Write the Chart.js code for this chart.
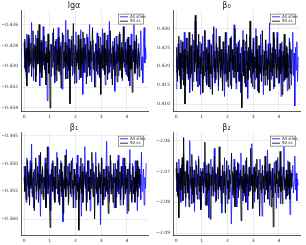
<!DOCTYPE html>
<html>
<head>
<meta charset="utf-8">
<script src="https://cdn.jsdelivr.net/npm/chart.js@4.4.0/dist/chart.umd.min.js"></script>
<style>
  html, body { margin: 0; padding: 0; background: #fff; }
  #wrap { position: relative; width: 306px; height: 245px; overflow: hidden; }
  .cell { position: absolute; }
</style>
</head>
<body>
<div id="wrap">
  <div class="cell" style="left:0;top:0;width:153px;height:122px"><canvas id="c0"></canvas></div>
  <div class="cell" style="left:153px;top:0;width:153px;height:122px"><canvas id="c1"></canvas></div>
  <div class="cell" style="left:0;top:122px;width:153px;height:123px"><canvas id="c2"></canvas></div>
  <div class="cell" style="left:153px;top:122px;width:153px;height:123px"><canvas id="c3"></canvas></div>
</div>
<script>
// series names / colours
const seriesNames = ['All sites', '50 ss'];
const seriesColors = ['#0000ff', '#000000'];
const panelTitles = ['lgα', 'β₀', 'β₁', 'β₂'];
const xTicks = [0, 1, 2, 3, 4];
const xEndAll = 4.75;   // last draw of "All sites"
const xEndSub = 4.5;    // last draw of "50 ss"

// lgα
const lgaTicks = [-0.434, -0.432, -0.430, -0.428, -0.426];
const lgaAll = [
  -0.4277, -0.4302, -0.4286, -0.4311, -0.4269, -0.4294, -0.4281, -0.4306, -0.4273, -0.4298,
  -0.4289, -0.4258, -0.4300, -0.4283, -0.4314, -0.4279, -0.4295, -0.4270, -0.4309, -0.4287,
  -0.4266, -0.4297, -0.4284, -0.4319, -0.4291, -0.4275, -0.4303, -0.4288, -0.4262, -0.4299,
  -0.4282, -0.4307, -0.4276, -0.4293, -0.4333, -0.4286, -0.4271, -0.4301, -0.4290, -0.4279,
  -0.4310, -0.4285, -0.4268, -0.4296, -0.4281, -0.4316, -0.4289, -0.4274, -0.4304, -0.4292,
  -0.4263, -0.4298, -0.4283, -0.4308, -0.4277, -0.4294, -0.4322, -0.4287, -0.4270, -0.4301,
  -0.4285, -0.4256, -0.4297, -0.4280, -0.4312, -0.4290, -0.4274, -0.4305, -0.4286, -0.4299,
  -0.4271, -0.4309, -0.4288, -0.4279, -0.4317, -0.4293, -0.4267, -0.4300, -0.4284, -0.4296,
  -0.4276, -0.4313, -0.4289, -0.4265, -0.4302, -0.4282, -0.4327, -0.4291, -0.4273, -0.4306,
  -0.4287, -0.4298, -0.4269, -0.4310, -0.4284, -0.4295, -0.4260, -0.4303, -0.4280, -0.4315,
  -0.4292, -0.4275, -0.4301, -0.4286, -0.4320, -0.4279, -0.4297, -0.4268, -0.4308, -0.4290,
  -0.4283, -0.4311, -0.4272, -0.4299, -0.4287, -0.4264, -0.4304, -0.4293, -0.4278, -0.4318,
  -0.4285, -0.4296, -0.4270, -0.4307, -0.4289, -0.4257, -0.4300, -0.4282, -0.4312, -0.4291,
  -0.4276, -0.4303, -0.4286, -0.4324, -0.4294, -0.4271, -0.4298, -0.4281, -0.4309, -0.4288,
  -0.4267, -0.4301, -0.4290, -0.4277, -0.4314, -0.4285, -0.4296, -0.4262, -0.4305, -0.4283,
  -0.4299, -0.4274, -0.4310, -0.4288, -0.4280, -0.4319, -0.4292, -0.4269, -0.4302, -0.4286,
  -0.4295, -0.4259, -0.4306, -0.4284, -0.4298, -0.4273, -0.4313, -0.4289, -0.4278, -0.4300,
  -0.4287, -0.4266, -0.4304, -0.4291, -0.4316, -0.4276, -0.4263, -0.4297, -0.4282, -0.4293
];
const lgaSub = [
  -0.4291, -0.4274, -0.4305, -0.4283, -0.4319, -0.4288, -0.4270, -0.4300, -0.4285, -0.4296,
  -0.4278, -0.4310, -0.4287, -0.4266, -0.4302, -0.4292, -0.4281, -0.4315, -0.4289, -0.4273,
  -0.4298, -0.4284, -0.4260, -0.4306, -0.4290, -0.4277, -0.4311, -0.4286, -0.4295, -0.4271,
  -0.4303, -0.4288, -0.4318, -0.4282, -0.4297, -0.4269, -0.4307, -0.4285, -0.4340, -0.4293,
  -0.4279, -0.4301, -0.4287, -0.4264, -0.4309, -0.4290, -0.4276, -0.4314, -0.4284, -0.4299,
  -0.4272, -0.4305, -0.4289, -0.4281, -0.4321, -0.4294, -0.4268, -0.4302, -0.4286, -0.4296,
  -0.4277, -0.4312, -0.4288, -0.4299, -0.4265, -0.4304, -0.4283, -0.4336, -0.4291, -0.4275,
  -0.4300, -0.4286, -0.4259, -0.4307, -0.4292, -0.4280, -0.4316, -0.4287, -0.4297, -0.4270,
  -0.4303, -0.4289, -0.4274, -0.4311, -0.4285, -0.4298, -0.4267, -0.4306, -0.4282, -0.4294,
  -0.4279, -0.4317, -0.4290, -0.4272, -0.4301, -0.4286, -0.4309, -0.4276, -0.4295, -0.4284,
  -0.4263, -0.4303, -0.4288, -0.4320, -0.4293, -0.4278, -0.4305, -0.4285, -0.4298, -0.4271,
  -0.4310, -0.4287, -0.4327, -0.4296, -0.4280, -0.4302, -0.4289, -0.4268, -0.4308, -0.4283,
  -0.4299, -0.4275, -0.4313, -0.4290, -0.4284, -0.4306, -0.4266, -0.4297, -0.4288, -0.4318,
  -0.4281, -0.4300, -0.4273, -0.4309, -0.4292, -0.4286, -0.4315, -0.4279, -0.4296, -0.4269,
  -0.4304, -0.4290, -0.4282, -0.4311, -0.4287, -0.4262, -0.4301, -0.4294, -0.4277, -0.4308,
  -0.4285, -0.4298, -0.4272, -0.4314, -0.4289, -0.4280, -0.4303, -0.4291, -0.4325, -0.4284,
  -0.4296, -0.4276, -0.4307, -0.4288, -0.4270, -0.4302, -0.4293, -0.4283, -0.4310, -0.4287
];

// β₀
const b0Ticks = [0.410, 0.415, 0.420, 0.425, 0.430];
const b0All = [
  0.4140, 0.4225, 0.4175, 0.4260, 0.4190, 0.4235, 0.4155, 0.4270, 0.4200, 0.4165,
  0.4245, 0.4185, 0.4290, 0.4210, 0.4150, 0.4230, 0.4195, 0.4275, 0.4170, 0.4220,
  0.4130, 0.4250, 0.4205, 0.4180, 0.4285, 0.4160, 0.4240, 0.4195, 0.4320, 0.4215,
  0.4175, 0.4255, 0.4145, 0.4230, 0.4200, 0.4265, 0.4125, 0.4235, 0.4190, 0.4280,
  0.4165, 0.4220, 0.4295, 0.4185, 0.4245, 0.4150, 0.4210, 0.4270, 0.4180, 0.4230,
  0.4140, 0.4260, 0.4200, 0.4170, 0.4285, 0.4195, 0.4240, 0.4155, 0.4225, 0.4300,
  0.4185, 0.4250, 0.4135, 0.4215, 0.4275, 0.4175, 0.4235, 0.4195, 0.4160, 0.4265,
  0.4205, 0.4120, 0.4245, 0.4180, 0.4290, 0.4215, 0.4165, 0.4255, 0.4190, 0.4230,
  0.4150, 0.4280, 0.4200, 0.4240, 0.4170, 0.4310, 0.4185, 0.4225, 0.4140, 0.4260,
  0.4195, 0.4235, 0.4160, 0.4270, 0.4210, 0.4130, 0.4250, 0.4185, 0.4295, 0.4175,
  0.4220, 0.4155, 0.4265, 0.4200, 0.4240, 0.4115, 0.4230, 0.4190, 0.4280, 0.4170,
  0.4245, 0.4210, 0.4145, 0.4275, 0.4185, 0.4225, 0.4165, 0.4300, 0.4195, 0.4235,
  0.4135, 0.4255, 0.4200, 0.4180, 0.4285, 0.4160, 0.4215, 0.4245, 0.4125, 0.4230,
  0.4190, 0.4270, 0.4175, 0.4240, 0.4150, 0.4260, 0.4205, 0.4315, 0.4185, 0.4220,
  0.4165, 0.4250, 0.4195, 0.4140, 0.4275, 0.4210, 0.4235, 0.4170, 0.4290, 0.4200,
  0.4155, 0.4245, 0.4180, 0.4225, 0.4120, 0.4265, 0.4190, 0.4240, 0.4160, 0.4285,
  0.4205, 0.4170, 0.4255, 0.4135, 0.4230, 0.4195, 0.4275, 0.4180, 0.4245, 0.4150,
  0.4215, 0.4290, 0.4175, 0.4235, 0.4095, 0.4250, 0.4190, 0.4265, 0.4160, 0.4225
];
const b0Sub = [
  0.4185, 0.4250, 0.4160, 0.4225, 0.4280, 0.4175, 0.4235, 0.4140, 0.4215, 0.4265,
  0.4195, 0.4150, 0.4245, 0.4100, 0.4220, 0.4275, 0.4180, 0.4240, 0.4165, 0.4290,
  0.4205, 0.4170, 0.4255, 0.4190, 0.4135, 0.4230, 0.4270, 0.4185, 0.4335, 0.4210,
  0.4160, 0.4245, 0.4195, 0.4285, 0.4150, 0.4225, 0.4180, 0.4260, 0.4200, 0.4130,
  0.4240, 0.4175, 0.4295, 0.4210, 0.4155, 0.4250, 0.4190, 0.4235, 0.4145, 0.4270,
  0.4200, 0.4180, 0.4255, 0.4125, 0.4230, 0.4305, 0.4185, 0.4220, 0.4165, 0.4260,
  0.4195, 0.4240, 0.4150, 0.4280, 0.4210, 0.4170, 0.4245, 0.4190, 0.4135, 0.4265,
  0.4180, 0.4225, 0.4290, 0.4160, 0.4235, 0.4200, 0.4145, 0.4255, 0.4185, 0.4275,
  0.4210, 0.4140, 0.4245, 0.4190, 0.4230, 0.4170, 0.4300, 0.4195, 0.4155, 0.4250,
  0.4185, 0.4265, 0.4205, 0.4160, 0.4235, 0.4180, 0.4090, 0.4225, 0.4270, 0.4175,
  0.4240, 0.4195, 0.4145, 0.4285, 0.4210, 0.4165, 0.4250, 0.4190, 0.4320, 0.4200,
  0.4155, 0.4235, 0.4180, 0.4265, 0.4140, 0.4225, 0.4195, 0.4280, 0.4170, 0.4245,
  0.4205, 0.4130, 0.4255, 0.4185, 0.4230, 0.4160, 0.4295, 0.4200, 0.4175, 0.4240,
  0.4150, 0.4270, 0.4190, 0.4220, 0.4165, 0.4250, 0.4210, 0.4135, 0.4260, 0.4185,
  0.4235, 0.4175, 0.4290, 0.4195, 0.4145, 0.4245, 0.4205, 0.4170, 0.4275, 0.4190,
  0.4225, 0.4155, 0.4260, 0.4180, 0.4240, 0.4125, 0.4230, 0.4200, 0.4285, 0.4165,
  0.4215, 0.4250, 0.4170, 0.4235, 0.4190, 0.4140, 0.4265, 0.4205, 0.4180, 0.4245
];

// β₁
const b1Ticks = [-0.360, -0.355, -0.350, -0.345];
const b1All = [
  -0.3505, -0.3550, -0.3520, -0.3570, -0.3490, -0.3540, -0.3515, -0.3560, -0.3530, -0.3495,
  -0.3545, -0.3465, -0.3555, -0.3525, -0.3580, -0.3510, -0.3540, -0.3500, -0.3565, -0.3530,
  -0.3515, -0.3550, -0.3485, -0.3545, -0.3595, -0.3520, -0.3535, -0.3505, -0.3560, -0.3525,
  -0.3545, -0.3490, -0.3575, -0.3530, -0.3510, -0.3555, -0.3470, -0.3540, -0.3520, -0.3585,
  -0.3535, -0.3500, -0.3550, -0.3525, -0.3565, -0.3505, -0.3545, -0.3515, -0.3480, -0.3555,
  -0.3530, -0.3570, -0.3510, -0.3540, -0.3495, -0.3560, -0.3525, -0.3605, -0.3535, -0.3505,
  -0.3550, -0.3520, -0.3475, -0.3545, -0.3530, -0.3575, -0.3500, -0.3540, -0.3515, -0.3560,
  -0.3525, -0.3490, -0.3555, -0.3535, -0.3510, -0.3580, -0.3530, -0.3545, -0.3485, -0.3550,
  -0.3520, -0.3565, -0.3505, -0.3540, -0.3595, -0.3525, -0.3500, -0.3555, -0.3530, -0.3470,
  -0.3545, -0.3515, -0.3570, -0.3535, -0.3495, -0.3550, -0.3525, -0.3585, -0.3510, -0.3540,
  -0.3530, -0.3500, -0.3560, -0.3520, -0.3545, -0.3480, -0.3555, -0.3535, -0.3575, -0.3505,
  -0.3540, -0.3515, -0.3610, -0.3530, -0.3490, -0.3550, -0.3525, -0.3565, -0.3510, -0.3545,
  -0.3520, -0.3460, -0.3540, -0.3555, -0.3505, -0.3570, -0.3530, -0.3495, -0.3550, -0.3525,
  -0.3545, -0.3510, -0.3580, -0.3535, -0.3500, -0.3560, -0.3520, -0.3540, -0.3485, -0.3555,
  -0.3530, -0.3575, -0.3515, -0.3545, -0.3525, -0.3490, -0.3565, -0.3535, -0.3505, -0.3550,
  -0.3520, -0.3590, -0.3540, -0.3510, -0.3555, -0.3475, -0.3545, -0.3530, -0.3570, -0.3500,
  -0.3540, -0.3525, -0.3560, -0.3495, -0.3550, -0.3515, -0.3585, -0.3535, -0.3505, -0.3545,
  -0.3520, -0.3565, -0.3480, -0.3550, -0.3530, -0.3510, -0.3575, -0.3525, -0.3545, -0.3500
];
const b1Sub = [
  -0.3525, -0.3550, -0.3505, -0.3565, -0.3535, -0.3495, -0.3545, -0.3520, -0.3575, -0.3510,
  -0.3540, -0.3500, -0.3560, -0.3530, -0.3515, -0.3585, -0.3525, -0.3490, -0.3550, -0.3535,
  -0.3505, -0.3570, -0.3520, -0.3545, -0.3480, -0.3555, -0.3530, -0.3510, -0.3565, -0.3525,
  -0.3540, -0.3500, -0.3580, -0.3535, -0.3470, -0.3545, -0.3520, -0.3560, -0.3615, -0.3530,
  -0.3510, -0.3550, -0.3495, -0.3540, -0.3525, -0.3570, -0.3505, -0.3545, -0.3530, -0.3490,
  -0.3555, -0.3520, -0.3575, -0.3535, -0.3500, -0.3550, -0.3515, -0.3590, -0.3530, -0.3545,
  -0.3485, -0.3560, -0.3525, -0.3540, -0.3505, -0.3570, -0.3535, -0.3515, -0.3555, -0.3495,
  -0.3545, -0.3530, -0.3580, -0.3510, -0.3540, -0.3520, -0.3565, -0.3500, -0.3550, -0.3535,
  -0.3620, -0.3525, -0.3545, -0.3490, -0.3555, -0.3515, -0.3570, -0.3530, -0.3505, -0.3540,
  -0.3520, -0.3585, -0.3535, -0.3495, -0.3550, -0.3525, -0.3565, -0.3510, -0.3545, -0.3480,
  -0.3540, -0.3560, -0.3515, -0.3600, -0.3530, -0.3505, -0.3550, -0.3525, -0.3570, -0.3500,
  -0.3545, -0.3520, -0.3555, -0.3490, -0.3535, -0.3575, -0.3510, -0.3540, -0.3525, -0.3560,
  -0.3505, -0.3550, -0.3530, -0.3590, -0.3515, -0.3545, -0.3485, -0.3555, -0.3520, -0.3540,
  -0.3570, -0.3500, -0.3535, -0.3525, -0.3580, -0.3510, -0.3550, -0.3495, -0.3545, -0.3530,
  -0.3515, -0.3565, -0.3505, -0.3540, -0.3520, -0.3575, -0.3535, -0.3490, -0.3555, -0.3525,
  -0.3545, -0.3510, -0.3585, -0.3530, -0.3500, -0.3550, -0.3520, -0.3565, -0.3540, -0.3505,
  -0.3555, -0.3525, -0.3570, -0.3515, -0.3545, -0.3495, -0.3560, -0.3530, -0.3510, -0.3540
];

// β₂
const b2Ticks = [-2.09, -2.08, -2.07, -2.06];
const b2All = [
  -2.0690, -2.0765, -2.0705, -2.0785, -2.0660, -2.0740, -2.0715, -2.0800, -2.0680, -2.0750,
  -2.0725, -2.0645, -2.0770, -2.0700, -2.0815, -2.0735, -2.0675, -2.0760, -2.0710, -2.0790,
  -2.0600, -2.0745, -2.0720, -2.0805, -2.0685, -2.0755, -2.0695, -2.0830, -2.0730, -2.0665,
  -2.0775, -2.0710, -2.0745, -2.0650, -2.0790, -2.0725, -2.0690, -2.0820, -2.0740, -2.0700,
  -2.0760, -2.0670, -2.0735, -2.0810, -2.0715, -2.0680, -2.0770, -2.0730, -2.0850, -2.0705,
  -2.0745, -2.0660, -2.0780, -2.0720, -2.0695, -2.0765, -2.0625, -2.0740, -2.0800, -2.0710,
  -2.0755, -2.0685, -2.0790, -2.0730, -2.0670, -2.0760, -2.0715, -2.0835, -2.0700, -2.0745,
  -2.0720, -2.0655, -2.0775, -2.0735, -2.0690, -2.0805, -2.0725, -2.0680, -2.0765, -2.0710,
  -2.0740, -2.0870, -2.0750, -2.0700, -2.0785, -2.0660, -2.0730, -2.0770, -2.0695, -2.0815,
  -2.0720, -2.0675, -2.0760, -2.0705, -2.0740, -2.0640, -2.0755, -2.0725, -2.0795, -2.0690,
  -2.0735, -2.0780, -2.0665, -2.0750, -2.0710, -2.0825, -2.0730, -2.0685, -2.0765, -2.0700,
  -2.0745, -2.0610, -2.0770, -2.0720, -2.0690, -2.0800, -2.0735, -2.0675, -2.0755, -2.0715,
  -2.0790, -2.0705, -2.0740, -2.0660, -2.0760, -2.0730, -2.0845, -2.0695, -2.0750, -2.0720,
  -2.0680, -2.0775, -2.0710, -2.0745, -2.0630, -2.0765, -2.0725, -2.0810, -2.0700, -2.0740,
  -2.0760, -2.0690, -2.0785, -2.0715, -2.0670, -2.0750, -2.0735, -2.0820, -2.0705, -2.0655,
  -2.0770, -2.0725, -2.0695, -2.0805, -2.0740, -2.0685, -2.0760, -2.0710, -2.0590, -2.0750,
  -2.0730, -2.0790, -2.0700, -2.0745, -2.0665, -2.0775, -2.0720, -2.0840, -2.0695, -2.0755,
  -2.0715, -2.0680, -2.0770, -2.0735, -2.0650, -2.0760, -2.0705, -2.0795, -2.0725, -2.0745
];
const b2Sub = [
  -2.0725, -2.0670, -2.0780, -2.0705, -2.0850, -2.0740, -2.0690, -2.0760, -2.0715, -2.0655,
  -2.0795, -2.0590, -2.0745, -2.0700, -2.0785, -2.0725, -2.0665, -2.0770, -2.0710, -2.0815,
  -2.0735, -2.0685, -2.0755, -2.0645, -2.0775, -2.0720, -2.0800, -2.0695, -2.0750, -2.0710,
  -2.0680, -2.0790, -2.0730, -2.0660, -2.0765, -2.0715, -2.0825, -2.0700, -2.0745, -2.0690,
  -2.0770, -2.0725, -2.0605, -2.0750, -2.0705, -2.0810, -2.0735, -2.0675, -2.0760, -2.0720,
  -2.0855, -2.0710, -2.0745, -2.0685, -2.0780, -2.0730, -2.0650, -2.0765, -2.0705, -2.0795,
  -2.0740, -2.0690, -2.0760, -2.0620, -2.0750, -2.0715, -2.0805, -2.0725, -2.0680, -2.0770,
  -2.0700, -2.0745, -2.0835, -2.0710, -2.0665, -2.0755, -2.0730, -2.0790, -2.0695, -2.0740,
  -2.0720, -2.0640, -2.0775, -2.0705, -2.0760, -2.0685, -2.0815, -2.0735, -2.0700, -2.0750,
  -2.0670, -2.0785, -2.0725, -2.0745, -2.0695, -2.0860, -2.0715, -2.0755, -2.0680, -2.0770,
  -2.0730, -2.0705, -2.0800, -2.0655, -2.0740, -2.0720, -2.0780, -2.0690, -2.0760, -2.0625,
  -2.0745, -2.0710, -2.0820, -2.0730, -2.0685, -2.0765, -2.0700, -2.0750, -2.0660, -2.0790,
  -2.0725, -2.0695, -2.0845, -2.0740, -2.0705, -2.0770, -2.0680, -2.0755, -2.0715, -2.0800,
  -2.0650, -2.0735, -2.0760, -2.0700, -2.0790, -2.0720, -2.0675, -2.0745, -2.0710, -2.0815,
  -2.0730, -2.0690, -2.0880, -2.0755, -2.0705, -2.0770, -2.0665, -2.0740, -2.0725, -2.0785,
  -2.0700, -2.0750, -2.0635, -2.0765, -2.0715, -2.0805, -2.0735, -2.0685, -2.0760, -2.0720,
  -2.0745, -2.0695, -2.0780, -2.0710, -2.0755, -2.0670, -2.0790, -2.0730, -2.0705, -2.0750
];

// draws are evenly spaced from 0 to the end of each chain
function toPoints(vals, xEnd) {
  return vals.map((v, i) => ({ x: i * xEnd / (vals.length - 1), y: v }));
}

function fmt(dec) {
  return v => v.toFixed(dec).replace('-', '\u2212');
}

// small boxed legend in the top-right corner of the plot area
const cornerLegend = {
  id: 'cornerLegend',
  afterDraw(chart) {
    const { ctx, chartArea } = chart;
    const w = 26, h = 11;
    const x0 = chartArea.right - w - 4;
    const y0 = chartArea.top + 3;
    ctx.save();
    ctx.fillStyle = '#fff';
    ctx.fillRect(x0, y0, w, h);
    ctx.strokeStyle = '#555';
    ctx.lineWidth = 0.6;
    ctx.strokeRect(x0 + 0.5, y0 + 0.5, w - 1, h - 1);
    ctx.font = '4px "DejaVu Sans"';
    ctx.textBaseline = 'middle';
    seriesNames.forEach((name, i) => {
      const yy = y0 + 3.2 + i * 4.4;
      ctx.strokeStyle = seriesColors[i];
      ctx.lineWidth = 0.8;
      ctx.beginPath();
      ctx.moveTo(x0 + 2, yy);
      ctx.lineTo(x0 + 10, yy);
      ctx.stroke();
      ctx.fillStyle = '#222';
      ctx.fillText(name, x0 + 12, yy);
    });
    ctx.restore();
  }
};

function makePanel(id, opts) {
  const ctx = document.getElementById(id).getContext('2d');
  return new Chart(ctx, {
    type: 'line',
    data: {
      datasets: [
        {
          label: seriesNames[1],
          data: toPoints(opts.sub, xEndSub),
          borderColor: 'rgba(0,0,0,0.85)',
          borderWidth: 1,
          pointRadius: 0,
          tension: 0,
          order: 1
        },
        {
          label: seriesNames[0],
          data: toPoints(opts.all, xEndAll),
          borderColor: 'rgba(10,10,255,0.75)',
          borderWidth: 1,
          pointRadius: 0,
          tension: 0,
          order: 2
        }
      ]
    },
    options: {
      responsive: true,
      maintainAspectRatio: false,
      animation: false,
      layout: { padding: { left: 0, right: opts.padRight, top: 0, bottom: 0 } },
      plugins: {
        legend: { display: false },
        tooltip: { enabled: false },
        title: {
          display: true,
          text: opts.title,
          color: '#222',
          font: { family: 'DejaVu Sans', size: 8, weight: 'normal' },
          padding: { top: 1, bottom: 0 }
        }
      },
      scales: {
        x: {
          type: 'linear',
          min: -0.12,
          max: 4.82,
          afterBuildTicks: axis => { axis.ticks = xTicks.map(v => ({ value: v })); },
          afterFit: axis => { axis.height = opts.xAxisH; },
          grid: { color: 'rgba(0,0,0,0.07)', drawTicks: false },
          border: { color: '#333', width: 0.8 },
          ticks: { color: '#333', font: { family: 'DejaVu Sans', size: 4.5 }, padding: 3, maxRotation: 0, callback: v => String(v) }
        },
        y: {
          min: opts.yMin,
          max: opts.yMax,
          afterBuildTicks: axis => { axis.ticks = opts.yTicks.map(v => ({ value: v })); },
          afterFit: axis => { axis.width = opts.yAxisW; },
          grid: { color: 'rgba(0,0,0,0.07)', drawTicks: false },
          border: { color: '#333', width: 0.8 },
          ticks: { color: '#333', font: { family: 'DejaVu Sans', size: 4.5 }, padding: 3, callback: fmt(opts.dec) }
        }
      }
    },
    plugins: [cornerLegend]
  });
}

makePanel('c0', { title: panelTitles[0], all: lgaAll, sub: lgaSub, yTicks: lgaTicks, yMin: -0.43429, yMax: -0.42467, dec: 3, yAxisW: 21, padRight: 5, xAxisH: 11 });
makePanel('c1', { title: panelTitles[1], all: b0All, sub: b0Sub, yTicks: b0Ticks, yMin: 0.40816, yMax: 0.43474, dec: 3, yAxisW: 20, padRight: 6, xAxisH: 11 });
makePanel('c2', { title: panelTitles[2], all: b1All, sub: b1Sub, yTicks: b1Ticks, yMin: -0.36286, yMax: -0.34446, dec: 3, yAxisW: 21, padRight: 5, xAxisH: 10 });
makePanel('c3', { title: panelTitles[3], all: b2All, sub: b2Sub, yTicks: b2Ticks, yMin: -2.0906, yMax: -2.0574, dec: 2, yAxisW: 20, padRight: 6, xAxisH: 10 });
</script>
</body>
</html>
